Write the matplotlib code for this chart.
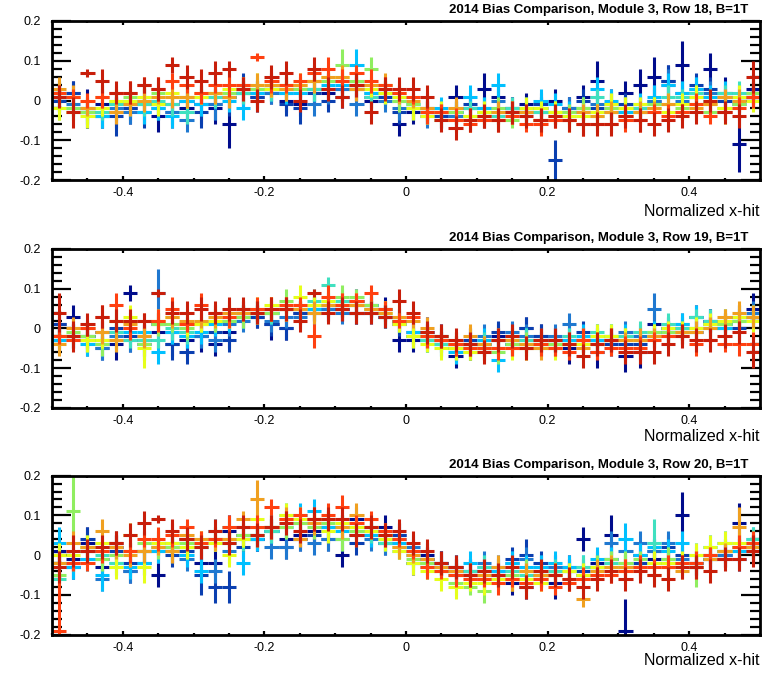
import matplotlib
matplotlib.use("Agg")
import matplotlib.pyplot as plt
from matplotlib.ticker import MultipleLocator, FixedLocator, FixedFormatter

plt.rcParams['font.family'] = ['Liberation Sans', 'DejaVu Sans']
plt.rcParams['axes.unicode_minus'] = False

# bin centres (normalized x-hit), 50 bins of 0.02
x_hit = [round(-0.49 + 0.02 * i, 2) for i in range(50)]

rows = [18, 19, 20]
colors = ['#000c8c', '#0a3fb0', '#1f78d0', '#00c0ff', '#40e0c0',
          '#90ee60', '#e6ff1a', '#f0a020', '#ff4010', '#c81e0a']

# bias values and errors in units of 0.01, one list per run (blue -> red)
row18_vals = [
    [1, 2, -2, -1, -3, -2, -1, -4, -1, -2, -1, -2, -6, 2, 1, 3, 0, -1, 3, 2, 1, 4, 0, 2, -6, -3, -2, -4, 1, -2, 3, 1, -2, -1, -3, 0, -2, 1, 5, -1, 2, 4, 6, 5, 9, 1, 8, 2, -11, 3],
    [0, 2, -3, -4, -4, -2, -3, -1, -3, 0, -3, -1, 1, 3, 1, 3, -1, -2, 2, 0, 3, 3, 1, 1, -3, -2, -3, -4, -3, -1, -2, -3, -2, -3, -1, -15, -2, 0, -2, -3, -1, -2, 0, 5, 2, 4, 3, 0, 1, 2],
    [2, -1, -3, -4, -2, -3, 0, -2, -3, -5, -1, -1, 1, 2, 2, 2, 2, 3, -1, 3, 3, -1, 2, 0, -2, -2, -4, -3, -4, -2, -4, 0, -3, -3, -2, -3, -2, -3, -1, -1, -2, -3, 0, 4, 0, 3, 2, 1, -1, 1],
    [1, -2, -3, -4, -1, -1, -3, -2, -4, 0, -1, 1, 0, -2, 2, 3, 2, 2, 3, 4, 4, 9, 2, 2, 1, -1, -3, -2, -3, 1, -2, 4, -3, -2, 0, -1, -3, -2, 3, 0, -3, -1, 1, 4, 2, 3, 1, 2, 0, 1],
    [2, -2, -2, -3, -1, 0, -1, 0, -1, -3, 1, 1, 1, 2, 3, 3, 4, 3, 3, 5, 5, 3, 1, 2, 0, -2, -3, -3, -3, -2, -3, -4, -2, -3, -3, -3, -4, -2, 1, -1, -2, -2, -1, 1, 1, 2, 0, 2, 2, 2],
    [-2, -2, -3, -2, 0, 1, 1, 2, 1, 1, 1, 2, 2, 3, 3, 3, 3, 3, 5, 5, 9, 5, 8, 4, 0, -1, -2, -5, -3, -4, -3, -2, -5, -3, -5, -3, -3, -2, -4, -2, -2, -3, -1, -1, -2, -1, -3, -2, -1, 2],
    [-2, -3, -4, -2, 0, 0, 1, -1, 2, 1, 1, 2, 3, 3, 4, 3, 4, 4, 5, 6, 6, 4, 3, 2, 1, -2, -4, -3, -5, -4, -3, -5, -3, -2, -2, -3, -4, -4, -3, -1, -2, -1, -2, -3, -1, 1, -1, -2, 1, 0],
    [3, 1, -2, 1, -3, -1, 0, 1, 1, 1, 2, 2, 1, 4, 4, 4, 3, 4, 5, 6, 6, 3, 4, 4, 2, 0, -2, -3, -2, -5, -4, -3, -3, -3, -5, -4, -5, -3, -4, -3, -4, -3, -2, -1, -3, -2, -1, 1, 0, 1],
    [2, 1, 0, 1, 2, 2, 4, 3, 5, 4, 2, 4, 4, 4, 11, 5, 4, 5, 7, 8, 5, 7, 5, 4, 2, 1, -3, -3, -5, -6, -5, -5, -4, -6, -6, -5, -5, -6, -6, -6, -5, -5, -3, -4, -3, -1, -4, -3, -2, 1],
    [1, -3, 7, 5, 2, 2, 4, 3, 9, 6, 5, 7, 8, 3, 0, 6, 7, 0, 8, 3, 1, 4, -3, 3, 3, 3, 1, -5, -7, -5, -4, -5, -3, -4, -5, -4, -5, -6, -6, -6, -4, -5, -6, -5, -4, -3, 0, -3, -4, 6],
]
row18_errs = [
    [4, 3, 5, 4, 4, 4, 5, 4, 3, 4, 5, 4, 6, 4, 3, 4, 3, 3, 4, 4, 3, 4, 3, 3, 3, 3, 4, 3, 3, 3, 4, 3, 3, 3, 4, 3, 3, 3, 5, 4, 3, 4, 5, 4, 6, 3, 4, 4, 7, 4],
    [3, 3, 4, 3, 5, 3, 4, 4, 4, 3, 4, 4, 5, 4, 4, 3, 3, 4, 3, 3, 3, 3, 3, 3, 3, 3, 3, 3, 3, 3, 3, 3, 3, 3, 3, 5, 3, 3, 3, 3, 3, 3, 4, 4, 3, 3, 3, 3, 3, 3],
    [3, 3, 3, 3, 3, 3, 3, 3, 3, 3, 3, 4, 3, 3, 3, 3, 3, 3, 3, 4, 3, 3, 3, 3, 3, 3, 3, 3, 3, 3, 3, 3, 3, 3, 3, 3, 3, 3, 3, 3, 3, 3, 3, 4, 3, 3, 3, 3, 3, 3],
    [3, 3, 3, 3, 3, 3, 3, 3, 3, 3, 3, 3, 3, 3, 3, 3, 3, 3, 3, 3, 3, 4, 3, 3, 3, 3, 3, 3, 3, 3, 3, 3, 3, 3, 3, 3, 3, 3, 3, 3, 3, 3, 3, 3, 3, 3, 3, 3, 3, 3],
    [2, 2, 3, 2, 3, 2, 3, 2, 3, 3, 2, 3, 2, 3, 2, 3, 3, 2, 3, 2, 3, 2, 3, 2, 2, 2, 3, 2, 3, 2, 3, 2, 3, 3, 2, 3, 2, 3, 2, 3, 2, 3, 2, 3, 2, 2, 3, 2, 3, 2],
    [3, 2, 3, 2, 3, 2, 3, 3, 2, 3, 2, 3, 2, 3, 3, 2, 3, 2, 3, 2, 4, 2, 3, 2, 3, 2, 3, 2, 3, 2, 2, 3, 2, 3, 2, 3, 2, 3, 3, 2, 3, 2, 2, 3, 2, 3, 2, 3, 2, 3],
    [3, 2, 3, 2, 3, 3, 2, 3, 2, 3, 2, 2, 3, 2, 3, 2, 3, 3, 2, 3, 2, 3, 2, 3, 2, 3, 2, 3, 3, 2, 3, 2, 3, 3, 2, 3, 2, 3, 2, 3, 3, 2, 3, 2, 3, 3, 3, 4, 3, 3],
    [3, 3, 2, 3, 3, 3, 3, 2, 3, 3, 2, 3, 3, 2, 3, 3, 3, 2, 3, 2, 3, 3, 2, 3, 3, 2, 3, 2, 3, 3, 2, 3, 3, 2, 3, 2, 3, 2, 3, 3, 2, 3, 2, 3, 2, 3, 3, 2, 3, 3],
    [2, 2, 2, 3, 2, 3, 2, 3, 2, 2, 3, 2, 3, 2, 1, 3, 2, 2, 2, 3, 3, 2, 3, 2, 2, 2, 3, 2, 3, 2, 2, 3, 2, 2, 3, 2, 2, 3, 2, 2, 3, 3, 2, 3, 2, 3, 2, 2, 3, 3],
    [3, 4, 1, 3, 3, 3, 2, 3, 2, 3, 3, 3, 2, 3, 3, 3, 3, 3, 3, 3, 3, 3, 3, 3, 3, 3, 3, 3, 3, 3, 3, 3, 3, 3, 3, 3, 3, 3, 3, 3, 3, 3, 3, 3, 3, 3, 3, 3, 3, 4],
]

row19_vals = [
    [1, 3, -2, -1, -4, 9, -3, -1, -4, -3, -2, -4, -1, 4, 3, 1, 0, 4, 4, 5, 5, 4, 6, 5, -3, -3, -1, -2, -7, -4, -4, -2, -4, 0, -2, -3, -5, -3, -6, -3, -7, -6, 1, 0, -1, 3, 2, 0, 3, 5],
    [1, -2, -3, -5, 0, -2, -4, 1, -4, -6, -2, -1, -3, 3, 3, 1, 0, 4, 5, 6, 5, 7, 4, 3, 1, -1, -2, -3, -5, -3, -5, -1, -2, 0, -2, -3, -3, -1, -3, -4, -4, -4, -2, -1, 0, -1, 2, 1, 0, 3],
    [-3, -2, -2, -5, -2, -3, -2, 9, -1, -2, -2, -3, 1, 2, 4, 2, 3, 3, 5, 5, 4, 4, 5, 3, 2, -2, -3, -4, -5, -4, -2, -3, -1, -2, -3, -2, 1, -3, -2, -3, -1, -2, 5, -1, 1, 0, 0, 2, 3, 4],
    [-3, -2, -4, -4, -1, -1, -1, -6, -1, -2, -1, 1, 2, 3, 4, 4, 5, 5, 5, 6, 6, 6, 6, 3, 2, -1, -3, -4, -6, -4, -3, -8, -4, -3, -4, -3, -3, -2, -3, -2, -2, -3, -1, 0, 1, 3, 1, 0, 2, 3],
    [-2, -2, -3, -3, -1, -3, -3, -3, 0, -1, 1, 2, 2, 3, 4, 4, 5, 5, 7, 11, 7, 6, 5, 4, 2, -2, -3, -4, -5, -5, -4, -5, -3, -3, -4, -4, -2, -3, -1, -2, -2, -1, -2, 1, 0, 3, 2, 1, 2, 3],
    [-2, -1, -2, -4, 2, 2, -4, 1, 1, 0, 1, 2, 2, 3, 4, 4, 7, 5, 6, 6, 8, 8, 6, 5, 2, -2, -2, -2, -4, -6, -5, -6, -4, -4, -5, -4, -4, -4, -4, -2, -3, -3, -1, -1, -1, 0, 1, 1, 2, 3],
    [-2, -2, -3, -3, 2, 3, -5, 2, 3, 1, 1, 2, 3, 4, 5, 6, 5, 8, 6, 7, 6, 6, 5, 4, 1, -2, -4, -5, -5, -6, -5, -5, -5, -5, -4, -5, -4, -4, -2, -2, -3, -3, -2, 0, -1, 0, 1, 2, 3, 2],
    [-4, 0, 0, -1, -3, 1, -2, 2, 3, 2, 2, 3, 4, 4, 4, 5, 5, 5, 4, 6, 6, 6, 5, 4, 3, 2, 0, -3, -4, -2, -4, -3, -3, -4, -5, -5, -4, -5, -4, -3, -3, -3, -2, -2, -1, -1, 0, 3, 4, 3],
    [-2, -3, 0, 3, 6, 0, 2, 2, 5, 1, 6, 4, 3, 5, 5, 5, 6, 6, -2, 8, 6, 7, 9, 5, 2, 3, -2, -3, -4, -5, -5, -5, -5, -5, -4, -5, -6, -3, -6, -5, -5, -5, -3, -2, -2, -4, -3, -4, -4, -4],
    [4, -2, 1, 3, 2, 2, 2, 9, 4, 4, 5, 4, 5, 5, 4, 5, 5, 2, 9, 4, 5, 4, 4, 3, 7, 4, -1, -2, -3, -4, -6, -3, -2, -5, -3, -3, -4, -7, -4, -3, -6, -6, -6, -4, -2, -3, -3, -2, -1, -6],
]
row19_errs = [
    [3, 3, 4, 3, 4, 2, 4, 4, 3, 4, 4, 3, 4, 3, 3, 4, 3, 3, 3, 3, 3, 3, 3, 3, 3, 3, 4, 3, 3, 4, 3, 3, 3, 3, 3, 3, 4, 3, 4, 3, 4, 4, 3, 3, 3, 3, 3, 4, 3, 4],
    [3, 3, 4, 3, 3, 4, 4, 3, 4, 3, 3, 4, 3, 3, 3, 3, 3, 3, 3, 3, 3, 3, 3, 3, 3, 3, 3, 3, 3, 3, 3, 3, 3, 3, 3, 3, 4, 3, 3, 3, 3, 3, 3, 3, 3, 3, 3, 3, 3, 3],
    [3, 3, 3, 3, 3, 3, 3, 6, 3, 3, 3, 3, 3, 3, 3, 3, 3, 3, 3, 3, 3, 3, 3, 3, 3, 3, 3, 3, 3, 3, 3, 3, 3, 3, 3, 3, 3, 3, 3, 3, 3, 3, 4, 3, 3, 3, 3, 3, 3, 3],
    [3, 3, 3, 3, 3, 3, 3, 3, 3, 3, 3, 3, 3, 3, 3, 3, 3, 3, 3, 3, 3, 3, 3, 3, 3, 3, 3, 3, 3, 3, 3, 3, 3, 3, 3, 3, 3, 3, 3, 3, 3, 3, 3, 3, 3, 3, 3, 3, 3, 3],
    [2, 2, 3, 2, 3, 2, 3, 2, 3, 3, 2, 3, 2, 3, 2, 3, 3, 2, 3, 2, 3, 2, 3, 2, 2, 2, 3, 2, 3, 2, 3, 2, 3, 3, 2, 3, 2, 3, 2, 3, 2, 3, 2, 3, 2, 2, 3, 2, 3, 2],
    [3, 2, 3, 3, 3, 2, 3, 3, 2, 3, 2, 3, 2, 3, 3, 2, 3, 2, 3, 2, 3, 2, 3, 2, 3, 2, 3, 2, 3, 2, 2, 3, 2, 3, 2, 3, 2, 3, 3, 2, 3, 2, 2, 3, 2, 3, 2, 3, 2, 3],
    [3, 2, 3, 2, 3, 3, 5, 3, 2, 3, 2, 2, 3, 2, 3, 2, 3, 3, 2, 3, 2, 3, 2, 3, 2, 3, 2, 3, 3, 2, 3, 2, 3, 3, 2, 3, 2, 3, 3, 3, 3, 2, 3, 2, 3, 3, 3, 3, 3, 3],
    [3, 3, 2, 3, 3, 3, 3, 2, 3, 3, 2, 3, 3, 2, 3, 3, 3, 2, 3, 2, 3, 3, 2, 3, 3, 2, 3, 2, 3, 3, 2, 3, 3, 2, 3, 2, 3, 2, 3, 3, 2, 3, 2, 3, 2, 3, 3, 2, 3, 3],
    [2, 2, 2, 3, 3, 3, 2, 3, 3, 2, 3, 2, 3, 2, 3, 3, 2, 2, 3, 3, 3, 2, 2, 2, 2, 2, 3, 2, 3, 2, 2, 3, 2, 2, 3, 2, 2, 3, 2, 2, 3, 3, 2, 3, 2, 3, 2, 2, 3, 3],
    [5, 4, 3, 3, 3, 3, 2, 1, 3, 3, 3, 3, 3, 3, 3, 3, 3, 3, 1, 3, 3, 3, 3, 3, 3, 3, 3, 3, 3, 3, 3, 3, 3, 3, 3, 3, 3, 3, 3, 3, 3, 3, 3, 3, 3, 3, 3, 3, 3, 4],
]

row20_vals = [
    [1, -1, 3, -3, 2, -4, -2, -5, 2, 4, -2, -2, 6, 5, 4, 7, 4, 5, 6, 7, 0, 9, 6, 7, 5, -2, 0, -2, -4, -5, -6, -4, -7, -8, -5, -7, -3, 4, -2, 5, -19, 0, -1, -2, 10, -3, -1, 0, 8, 2],
    [0, -3, 4, -1, 1, -2, 1, 1, 0, 1, -5, -8, -8, 2, 4, 6, 2, 4, 5, 4, 7, 3, 5, 3, 5, 1, -1, -2, -3, -4, -4, -5, -1, 0, -2, -3, -4, -4, -3, -1, -3, -2, 1, 2, 0, -2, -1, 1, -1, 1],
    [-2, -3, 1, -6, 3, -4, 1, 3, 1, -1, 2, -4, 1, 4, 5, 2, 2, 4, 3, 4, 4, 5, 4, 3, 4, 2, -1, -2, -3, -4, -2, -3, -2, -1, -3, -3, -4, -5, -3, 3, 1, 3, 1, 3, -1, -2, 0, 0, 1, 3],
    [3, -3, -1, -5, -2, -3, -2, 1, 2, 0, -4, 6, 3, -2, 4, 6, 7, 10, 11, 7, 6, 7, 5, 4, 3, 0, -2, -3, -4, -2, -3, -4, -2, -3, -3, -2, -3, -3, -1, -1, 4, 0, 2, 1, 3, 0, 2, 3, 1, 4],
    [-6, -2, 2, 0, -2, 1, 1, 2, 3, 2, 3, 4, 7, 4, 5, 6, 10, 8, 8, 9, 7, 7, 6, 3, 1, -2, -3, -4, -5, -4, -3, -5, -4, -5, -5, -4, -4, -3, -3, -2, -2, -3, 3, -1, -3, -2, -1, 1, 2, 4],
    [-5, 11, 1, -1, 0, 1, 3, 2, 2, 3, 2, 4, 4, 5, 5, 7, 7, 8, 7, 8, 4, 6, 7, 5, 2, -1, -2, -4, -7, -8, -9, -6, -5, -4, -6, -5, -4, -5, -3, -1, -2, -1, -2, -1, -2, -3, 0, 1, 2, 3],
    [0, 0, 2, 3, -3, 5, -3, 3, 3, 2, 4, 3, 0, 4, 9, 7, 10, 9, 9, 6, 8, 7, 6, 4, 1, -2, -4, -6, -8, -7, -7, -6, -6, -6, -7, -5, -4, -5, -3, -3, -4, -3, -2, -2, -2, 0, 2, 3, 3, 2],
    [-2, 3, 2, 6, 2, 0, 1, 2, 1, 5, 4, 4, 4, 9, 14, 7, 9, 4, 8, 9, 7, 10, 7, 5, 2, 0, -1, -3, -4, -5, -5, -3, -6, -4, -5, -5, -6, -11, -4, -3, -3, -3, -5, -3, -4, -3, -1, 1, 7, 2],
    [-19, -2, -2, 1, 3, 1, 4, 4, 5, 7, 3, 4, 7, 7, 7, 12, 9, 10, 9, 10, 12, 8, 9, 6, 4, 1, -3, -4, -5, -6, -6, -7, -6, -7, -6, -8, -7, -6, -5, -5, -4, -3, -3, -3, -2, -2, 0, -1, 2, 3],
    [-3, 1, 1, 2, 3, 5, 8, 9, 6, 4, 2, 6, 3, 7, 5, 7, 8, 6, 9, 9, 9, 5, 7, 5, 6, 3, 1, -2, -3, -5, -4, -5, -3, -8, -4, -5, -6, -8, -6, -4, -6, -4, -5, -6, -3, -3, -4, -1, -1, 1],
]
row20_errs = [
    [3, 3, 4, 3, 3, 3, 3, 3, 4, 3, 3, 3, 4, 3, 3, 3, 3, 3, 3, 4, 3, 3, 3, 3, 3, 3, 3, 3, 3, 4, 3, 3, 3, 3, 3, 4, 3, 3, 3, 5, 8, 3, 3, 3, 6, 3, 3, 3, 5, 3],
    [3, 3, 3, 3, 4, 3, 3, 3, 3, 3, 5, 4, 4, 3, 3, 3, 3, 3, 3, 3, 3, 3, 3, 3, 3, 3, 3, 3, 3, 3, 3, 3, 3, 4, 3, 3, 3, 3, 3, 3, 3, 3, 3, 3, 3, 3, 3, 3, 3, 3],
    [3, 3, 3, 3, 3, 3, 3, 3, 3, 3, 3, 3, 3, 3, 3, 3, 3, 3, 3, 3, 3, 3, 3, 3, 3, 3, 3, 3, 3, 3, 3, 3, 3, 3, 3, 3, 3, 3, 3, 3, 3, 3, 3, 3, 3, 3, 3, 3, 3, 3],
    [4, 3, 3, 4, 3, 3, 3, 3, 3, 3, 3, 3, 3, 3, 3, 3, 3, 3, 3, 3, 3, 3, 3, 3, 3, 3, 3, 3, 3, 3, 3, 3, 3, 3, 3, 3, 3, 3, 3, 3, 4, 3, 3, 3, 3, 3, 3, 3, 3, 3],
    [2, 2, 3, 2, 3, 2, 3, 2, 3, 3, 2, 3, 2, 3, 2, 3, 3, 2, 3, 2, 3, 2, 3, 2, 2, 2, 3, 2, 3, 2, 3, 2, 3, 3, 2, 3, 2, 3, 2, 3, 2, 3, 6, 3, 2, 2, 3, 2, 3, 3],
    [3, 9, 3, 3, 3, 2, 3, 3, 2, 3, 2, 3, 2, 3, 3, 2, 3, 2, 3, 2, 3, 2, 3, 2, 3, 2, 3, 2, 3, 2, 3, 3, 2, 3, 2, 3, 2, 3, 3, 2, 3, 2, 2, 3, 2, 5, 2, 3, 2, 3],
    [3, 2, 3, 2, 3, 3, 4, 3, 2, 3, 2, 2, 3, 2, 3, 2, 3, 3, 2, 3, 2, 3, 2, 3, 2, 3, 2, 3, 3, 2, 3, 2, 3, 3, 2, 3, 2, 3, 2, 3, 3, 2, 3, 2, 3, 3, 3, 3, 3, 3],
    [3, 3, 2, 3, 3, 3, 3, 2, 3, 3, 2, 3, 3, 2, 5, 3, 3, 2, 3, 2, 3, 3, 2, 3, 3, 2, 3, 2, 3, 3, 2, 3, 3, 2, 3, 2, 3, 2, 3, 3, 2, 3, 2, 3, 2, 3, 3, 2, 5, 3],
    [18, 2, 2, 3, 3, 3, 2, 3, 3, 2, 3, 2, 3, 2, 3, 2, 2, 2, 3, 3, 3, 2, 2, 2, 2, 2, 3, 2, 3, 2, 2, 3, 2, 2, 3, 2, 2, 3, 2, 2, 3, 3, 2, 3, 2, 3, 2, 2, 3, 3],
    [4, 4, 3, 3, 3, 3, 3, 1, 3, 3, 3, 3, 3, 3, 3, 3, 3, 3, 3, 3, 3, 3, 3, 3, 3, 3, 3, 3, 3, 3, 3, 3, 3, 3, 3, 3, 3, 3, 3, 3, 3, 3, 3, 3, 3, 3, 3, 3, 3, 4],
]

all_vals = [row18_vals, row19_vals, row20_vals]
all_errs = [row18_errs, row19_errs, row20_errs]

fig = plt.figure(figsize=(7.72, 6.73), dpi=100)
bottoms = [0.7325, 0.3938, 0.057]
label_y = [-0.2, -0.18, -0.16]
for p in range(3):
    ax = fig.add_axes([0.0674, bottoms[p], 0.917, 0.2363])
    for k in range(10):
        v = [a * 0.01 for a in all_vals[p][k]]
        e = [a * 0.01 for a in all_errs[p][k]]
        ax.errorbar(x_hit, v, xerr=0.01, yerr=e, fmt='none', ecolor=colors[k],
                    elinewidth=2.2, capsize=0)

    ax.set_xlim(-0.5, 0.5)
    ax.set_ylim(-0.2, 0.2)
    ax.xaxis.set_major_locator(FixedLocator([-0.4, -0.2, 0, 0.2, 0.4]))
    ax.xaxis.set_major_formatter(FixedFormatter(['-0.4', '-0.2', '0', '0.2', '0.4']))
    ax.xaxis.set_minor_locator(MultipleLocator(0.05))
    ax.yaxis.set_major_locator(FixedLocator([-0.2, -0.1, 0, 0.1, 0.2]))
    ax.yaxis.set_major_formatter(FixedFormatter(['-0.2', '-0.1', '0', '0.1', '0.2']))
    ax.yaxis.set_minor_locator(MultipleLocator(0.02))
    ax.tick_params(axis='both', which='both', direction='in', top=True, right=True,
                   labelsize=9, width=1.6, colors='black')
    ax.tick_params(axis='y', which='major', length=14, pad=8)
    ax.tick_params(axis='y', which='minor', length=7)
    ax.tick_params(axis='x', which='major', length=3, pad=5)
    ax.tick_params(axis='x', which='minor', length=1.5)
    for s in ax.spines.values():
        s.set_linewidth(2)

    ax.text(0.983, 1.03, '2014 Bias Comparison, Module 3, Row %d, B=1T' % rows[p],
            transform=ax.transAxes, ha='right', va='bottom', fontsize=9.5,
            fontweight='bold')
    ax.text(1.0, label_y[p], 'Normalized x-hit', transform=ax.transAxes,
            ha='right', va='center', fontsize=11.5)

fig.savefig('out.png', dpi=100)
